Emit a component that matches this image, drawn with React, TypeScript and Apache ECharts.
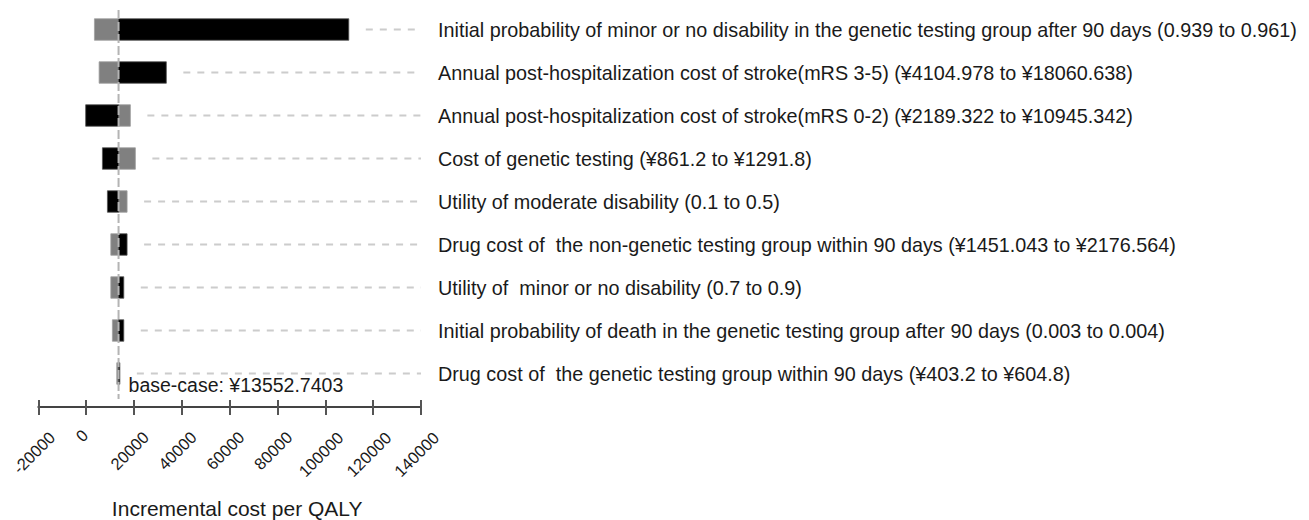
import React, { useEffect, useRef } from 'react';
import * as echarts from 'echarts';

const categories: string[] = [
  'Initial probability of minor or no disability in the genetic testing group after 90 days (0.939 to 0.961)',
  'Annual post-hospitalization cost of stroke(mRS 3-5) (¥4104.978 to ¥18060.638)',
  'Annual post-hospitalization cost of stroke(mRS 0-2) (¥2189.322 to ¥10945.342)',
  'Cost of genetic testing (¥861.2 to ¥1291.8)',
  'Utility of moderate disability (0.1 to 0.5)',
  'Drug cost of  the non-genetic testing group within 90 days (¥1451.043 to ¥2176.564)',
  'Utility of  minor or no disability (0.7 to 0.9)',
  'Initial probability of death in the genetic testing group after 90 days (0.003 to 0.004)',
  'Drug cost of  the genetic testing group within 90 days (¥403.2 to ¥604.8)',
];

const baseCase = 13552.7403;
const grayValues: number[] = [3466, 5428, 18497, 20585, 17119, 10313, 10313, 10981, 12800];
const blackValues: number[] = [109812, 33528, -200, 6806, 8894, 17119, 15741, 15741, 14100];
const xTicks: number[] = [-20000, 0, 20000, 40000, 60000, 80000, 100000, 120000, 140000];
const xTitle = 'Incremental cost per QALY';
const baseLabel = 'base-case: ¥13552.7403';

const FONT = '"Liberation Sans", Arial, Helvetica, sans-serif';
const TICK_FS = 16.5;

export default function App() {
  const ref = useRef<HTMLDivElement>(null);
  useEffect(() => {
    if (!ref.current) return;
    const chart = echarts.init(ref.current, undefined, { renderer: 'svg' });

    // label length in em units (Arial metrics)
    const tickEm = (s: string) => [...s].reduce((w, ch) => w + (ch === '-' ? 0.333 : 0.556), 0);
    const rich: Record<string, any> = {};
    xTicks.forEach((t, k) => {
      const e = tickEm(String(t));
      rich['t' + k] = {
        fontSize: TICK_FS,
        fontFamily: FONT,
        color: '#1a1a1a',
        padding: [28.66 + 9.52 * e, 41.38 + 9.52 * e, 0, 0],
      };
    });

    const xMin = xTicks[0];
    const xMax = xTicks[xTicks.length - 1];
    const interval = xTicks[1] - xTicks[0];

    const barRender = (color: string) => (params: any, api: any) => {
      const v = api.value(0);
      const y = api.value(1);
      const p0 = api.coord([baseCase, y]);
      const p1 = api.coord([v, y]);
      const h = api.size([0, 1])[1] * 0.5;
      return {
        type: 'rect',
        shape: { x: Math.min(p0[0], p1[0]), y: p0[1] - h / 2, width: Math.abs(p1[0] - p0[0]), height: h },
        style: { fill: color, stroke: color === '#000000' ? '#555' : '#a0a0a0', lineWidth: 0.8 },
      };
    };

    const option: any = {
      animation: false,
      grid: { left: 38.3, right: 888, top: 8, bottom: 125, containLabel: false, outerBoundsMode: 'none' },
      xAxis: [
        {
          type: 'value',
          min: xMin,
          max: xMax,
          interval,
          position: 'bottom',
          offset: 12,
          axisLine: { show: true, onZero: false, lineStyle: { color: '#444', width: 2 } },
          axisTick: { show: true, length: 8, lineStyle: { color: '#555', width: 2 } },
          splitLine: { show: false },
          axisLabel: {
            show: true,
            rotate: 45,
            align: 'center',
            verticalAlign: 'middle',
            margin: 0,
            fontSize: TICK_FS,
            fontFamily: FONT,
            color: '#1a1a1a',
            formatter: (v: number) => `{t${xTicks.indexOf(v)}|${v}}`,
            rich,
          },
          name: xTitle,
          nameLocation: 'middle',
          nameGap: 91,
          nameMoveOverlap: false,
          nameTextStyle: { fontSize: 21, fontFamily: FONT, color: '#1a1a1a', padding: [0, 0, 0, 15] },
        },
        {
          type: 'value',
          min: xMin,
          max: xMax,
          interval,
          position: 'bottom',
          offset: 12,
          axisLine: { show: false },
          axisTick: { show: true, inside: true, length: 7, lineStyle: { color: '#555', width: 2 } },
          axisLabel: { show: false },
          splitLine: { show: false },
        },
      ],
      yAxis: {
        type: 'category',
        data: categories,
        inverse: true,
        position: 'right',
        axisLine: { show: false },
        axisTick: { show: false },
        splitLine: { show: false },
        axisLabel: {
          interval: 0,
          align: 'left',
          margin: 17,
          fontSize: 19.8,
          fontFamily: FONT,
          color: '#1a1a1a',
        },
      },
      series: [
        {
          type: 'custom',
          name: 'guides',
          xAxisIndex: 0,
          encode: { x: 0, y: 1 },
          data: categories.map((_, i) => [Math.max(grayValues[i], blackValues[i], baseCase), i]),
          renderItem: (params: any, api: any) => {
            const v = api.value(0);
            const y = api.value(1);
            const p0 = api.coord([v, y]);
            const p1 = api.coord([xMax, y]);
            return {
              type: 'line',
              shape: { x1: p0[0] + 17, y1: p0[1], x2: p1[0], y2: p1[1] },
              style: { stroke: '#cccccc', lineWidth: 2, lineDash: [7, 7] },
            };
          },
          z: 1,
        },
        {
          type: 'custom',
          name: 'gray',
          xAxisIndex: 0,
          encode: { x: 0, y: 1 },
          data: grayValues.map((v, i) => [v, i]),
          renderItem: barRender('#808080'),
          z: 2,
        },
        {
          type: 'custom',
          name: 'black',
          xAxisIndex: 0,
          encode: { x: 0, y: 1 },
          data: blackValues.map((v, i) => [v, i]),
          renderItem: barRender('#000000'),
          z: 2,
        },
        {
          type: 'custom',
          name: 'baseline',
          xAxisIndex: 0,
          encode: { x: 0, y: 1 },
          data: [[baseCase, 0]],
          renderItem: (params: any, api: any) => {
            const p = api.coord([api.value(0), api.value(1)]);
            const cs = params.coordSys;
            return {
              type: 'line',
              shape: { x1: p[0], y1: cs.y + 2, x2: p[0], y2: cs.y + cs.height + 4 },
              style: { stroke: '#b4b4b4', lineWidth: 2, lineDash: [9, 3] },
            };
          },
          z: 5,
        },
        {
          type: 'custom',
          name: 'baseLabel',
          xAxisIndex: 0,
          encode: { x: 0, y: 1 },
          data: [[baseCase, categories.length - 1]],
          renderItem: (params: any, api: any) => {
            const p = api.coord([api.value(0), api.value(1)]);
            return {
              type: 'text',
              x: p[0] + 10,
              y: p[1] + 11,
              style: {
                text: baseLabel,
                fill: '#1a1a1a',
                fontSize: 19.5,
                fontFamily: FONT,
                align: 'left',
                verticalAlign: 'middle',
              },
            };
          },
          z: 6,
        },
      ],
    };
    chart.setOption(option);
    return () => chart.dispose();
  }, []);
  return (
    <div
      ref={ref}
      style={{ position: 'absolute', left: 0, top: 0, width: 1309, height: 520, background: '#fff' }}
    />
  );
}
